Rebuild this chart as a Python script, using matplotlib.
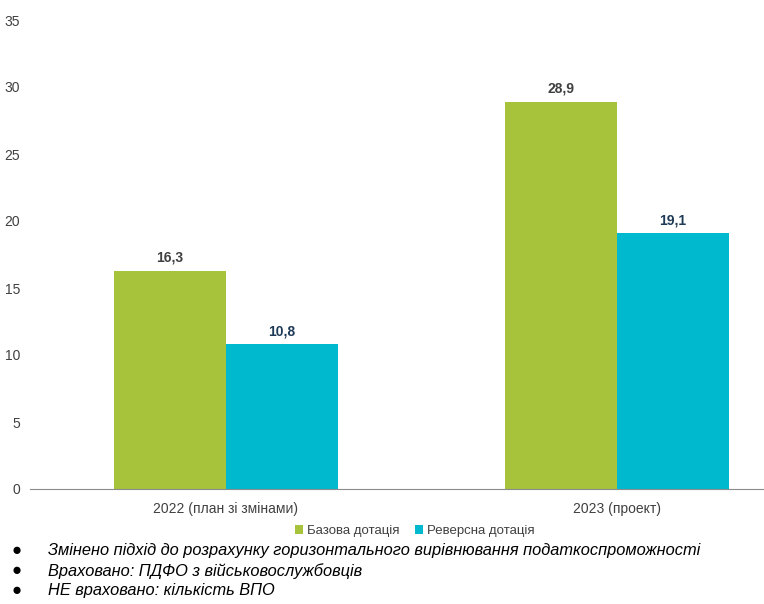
import numpy as np
import matplotlib.pyplot as plt

categories = ['2022 (план зі змінами)', '2023 (проект)']
series_names = ['Базова дотація', 'Реверсна дотація']
base_values = [16.3, 28.9]
reverse_values = [10.8, 19.1]
notes = [
    'Змінено підхід до розрахунку горизонтального вирівнювання податкоспроможності',
    'Враховано: ПДФО з військовослужбовців',
    'НЕ враховано: кількість ВПО',
]

green = '#A6C33B'
teal = '#00B9CE'

plt.rcParams['font.family'] = ['Liberation Sans', 'DejaVu Sans']

fig = plt.figure(figsize=(7.64, 6.04), dpi=100)
ax = fig.add_axes([30 / 764, 115 / 604, 734 / 764, 469 / 604])

x = np.arange(len(categories))
w = 0.286
b1 = ax.bar(x - w / 2, base_values, w, color=green, label=series_names[0])
b2 = ax.bar(x + w / 2, reverse_values, w, color=teal, label=series_names[1])

for rect, v in zip(b1, base_values):
    ax.text(rect.get_x() + rect.get_width() / 2, v + 0.45, f'{v:.1f}'.replace('.', ','),
            ha='center', va='bottom', fontsize=10, fontweight='bold', color='#404040')
for rect, v in zip(b2, reverse_values):
    ax.text(rect.get_x() + rect.get_width() / 2, v + 0.45, f'{v:.1f}'.replace('.', ','),
            ha='center', va='bottom', fontsize=10, fontweight='bold', color='#1F3A56')

ax.set_ylim(0, 35)
ax.set_yticks(range(0, 36, 5))
ax.set_xlim(-0.5, 1 + (764 - 617) / 391)
ax.set_xticks(x)
ax.set_xticklabels(categories)
for s in ['top', 'right', 'left']:
    ax.spines[s].set_visible(False)
ax.spines['bottom'].set_color('#8C8C8C')
ax.tick_params(axis='both', length=0, labelsize=10, colors='#404040')
ax.tick_params(axis='x', pad=9)
ax.tick_params(axis='y', pad=7)

ax.legend(loc='center', bbox_to_anchor=(415 / 764, 1 - 531 / 604), bbox_transform=fig.transFigure,
          ncol=2, frameon=False, fontsize=9.5, handlelength=0.6, handleheight=0.6,
          handletextpad=0.3, columnspacing=1.2, labelcolor='#404040')

for note, ypx in zip(notes, [550, 571, 591]):
    fig.text(12 / 764, 1 - ypx / 604, '●', fontsize=12, va='center', ha='left', color='black')
    fig.text(48 / 764, 1 - ypx / 604, note, fontsize=11.8, style='italic', va='center', ha='left', color='black')

fig.savefig('out.png', dpi=100)
